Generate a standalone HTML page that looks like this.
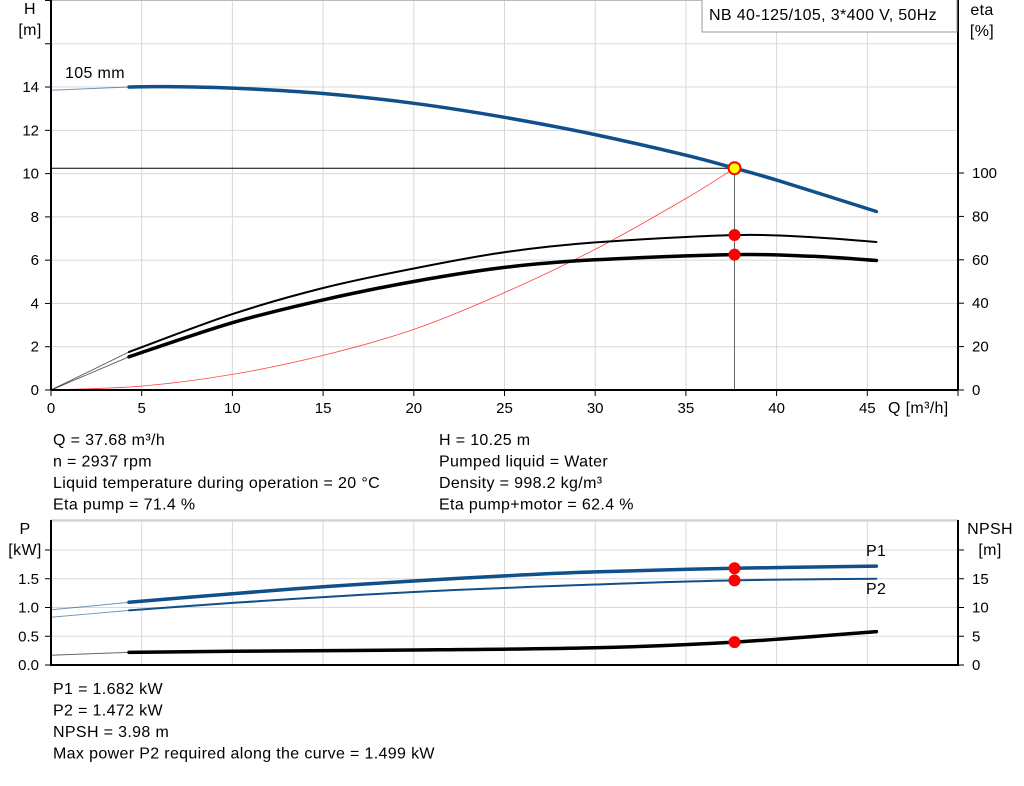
<!DOCTYPE html>
<html><head><meta charset="utf-8"><style>
body{margin:0;background:#fff;width:1024px;height:781px;overflow:hidden;font-family:"Liberation Sans",Arial,sans-serif}
svg text{font-family:"Liberation Sans",Arial,sans-serif;font-size:15px;fill:#000}
svg text.lbl{font-size:16px;letter-spacing:0.35px}
</style></head><body>
<svg id="c" width="1024" height="781"></svg>
<script>
// ---- data ----
const qTicks=[0,5,10,15,20,25,30,35,40,45];
const hTicks=[0,2,4,6,8,10,12,14];
const etaTicks=[0,20,40,60,80,100];
const pTicks=[0,0.5,1.0,1.5];
const npshTicks=[0,5,10,15];
const hQ=[0,4.3,6,10,15,20,25,30,35,37.68,40,45.5];
const hVal=[13.85,14.0,14.02,13.95,13.7,13.25,12.6,11.8,10.85,10.25,9.7,8.25];
const etaQ=[0,4.3,10,15,20,25,30,37.68,42,45.5];
const etaPump=[0,17.5,35,47,56,63.5,68,71.4,70.4,68.2];
const etaTot=[0,15.3,31,41.5,50,56.5,60,62.4,61.6,59.7];
const sysQ=[0,5,10,15,20,25,30,35,37.68];
const sysH=[0,0.18,0.72,1.6,2.8,4.5,6.5,8.85,10.25];
const pQ=[0,4.3,10,15,20,25,30,37.68,45.5];
const p1=[0.96,1.09,1.24,1.36,1.46,1.55,1.62,1.682,1.72];
const p2=[0.83,0.95,1.08,1.18,1.27,1.34,1.40,1.472,1.50];
const npshQ=[0,4.3,10,20,30,37.68,45.5];
const npsh=[1.7,2.2,2.4,2.6,3.0,3.98,5.8];
const duty={q:37.68,h:10.25,etaP:71.4,etaT:62.4,p1:1.682,p2:1.472,npsh:3.98};
const curveStart=4.3;

// ---- axes ----
const X0=51,X1=958;
const x=q=>X0+q*(X1-X0)/50;
const yH=h=>390-h*21.64;
const yE=e=>390-e*2.17;
const yP=p=>665-p*57.5;
const yN=n=>665-n*5.75;
const svg=document.getElementById('c');
const NS='http://www.w3.org/2000/svg';
function mk(t,a,parent){const e=document.createElementNS(NS,t);for(const k in a)e.setAttribute(k,a[k]);(parent||svg).appendChild(e);return e;}
function txt(s,xx,yy,anchor,col,cls){const e=mk('text',{x:xx,y:yy,'text-anchor':anchor||'start'});if(col)e.setAttribute('fill',col);if(cls)e.setAttribute('class',cls);e.textContent=s;return e;}

// grids top
for(let h=2;h<=18;h+=2){const l=mk('line',{x1:X0,x2:X1,y1:yH(h),y2:yH(h),stroke:'#d8d8d8'});}
for(let q=5;q<=45;q+=5){const l=mk('line',{x1:x(q),x2:x(q),y1:0,y2:390,stroke:'#d8d8d8'});}
mk('line',{x1:X0,x2:X1,y1:0.5,y2:0.5,stroke:'#bbb'});
// grids bottom
for(let p=0.5;p<=2.5;p+=0.5){mk('line',{x1:X0,x2:X1,y1:yP(p),y2:yP(p),stroke:'#d8d8d8'});}
for(let q=5;q<=45;q+=5){mk('line',{x1:x(q),x2:x(q),y1:520,y2:665,stroke:'#d8d8d8'});}
mk('line',{x1:X0,x2:X1,y1:520,y2:520,stroke:'#bbb'});

function path(xs,ys,fx,fy,attrs,name){
  const P=xs.map((q,i)=>[fx(q),fy(ys[i])]);
  let d='M'+P[0][0].toFixed(1)+','+P[0][1].toFixed(1);
  for(let i=0;i<P.length-1;i++){
    const p0=P[Math.max(0,i-1)],p1=P[i],p2=P[i+1],p3=P[Math.min(P.length-1,i+2)];
    const c1=[p1[0]+(p2[0]-p0[0])/6,p1[1]+(p2[1]-p0[1])/6];
    const c2=[p2[0]-(p3[0]-p1[0])/6,p2[1]-(p3[1]-p1[1])/6];
    d+='C'+c1[0].toFixed(1)+','+c1[1].toFixed(1)+' '+c2[0].toFixed(1)+','+c2[1].toFixed(1)+' '+p2[0].toFixed(1)+','+p2[1].toFixed(1);
  }
  const p=mk('path',Object.assign({d:d,fill:'none'},attrs));return p;}
function split(xs,ys){const a=[[],[]],b=[[],[]];xs.forEach((q,i)=>{if(q<=curveStart){a[0].push(q);a[1].push(ys[i]);}if(q>=curveStart){b[0].push(q);b[1].push(ys[i]);}});return [a,b];}
function curve(xs,ys,fx,fy,col,w,name){const [a,b]=split(xs,ys);path(a[0],a[1],fx,fy,{stroke:col,'stroke-width':1,opacity:0.6},name+'-extension');path(b[0],b[1],fx,fy,{stroke:col,'stroke-width':w,'stroke-linecap':'round'},name);}

// duty lines
mk('line',{x1:X0,x2:x(duty.q),y1:yH(duty.h),y2:yH(duty.h),stroke:'#000','stroke-width':1});
mk('line',{x1:x(duty.q),x2:x(duty.q),y1:yH(duty.h),y2:390,stroke:'#666','stroke-width':1});
path(sysQ,sysH,x,yH,{stroke:'#ff4040','stroke-width':0.8},'system-curve');
curve(hQ,hVal,x,yH,'#0f4f8a',3.5,'head-curve');
curve(etaQ,etaPump,x,yE,'#000',2,'eta-pump-curve');
curve(etaQ,etaTot,x,yE,'#000',3.5,'eta-total-curve');
curve(pQ,p1,x,yP,'#0f4f8a',3.5,'p1-curve');
curve(pQ,p2,x,yP,'#0f4f8a',2,'p2-curve');
curve(npshQ,npsh,x,yN,'#000',3.5,'npsh-curve');

function dot(yy,name,fill){const c=mk('circle',{cx:x(duty.q),cy:yy,r:6,fill:fill||'#f00',stroke:fill?'#f00':'none','stroke-width':2});}
dot(yE(duty.etaP),'eta-pump-point');dot(yE(duty.etaT),'eta-total-point');
dot(yH(duty.h),'duty-point','#ff0');
dot(yP(duty.p1),'p1-point');dot(yP(duty.p2),'p2-point');dot(yN(duty.npsh),'npsh-point');

// axes
mk('line',{x1:X0,x2:X0,y1:0,y2:390,stroke:'#000','stroke-width':2});
mk('line',{x1:X1,x2:X1,y1:0,y2:390,stroke:'#000','stroke-width':2});
mk('line',{x1:X0,x2:X1,y1:390,y2:390,stroke:'#000','stroke-width':2});
hTicks.forEach(h=>{mk('line',{x1:X0-6,x2:X0,y1:yH(h),y2:yH(h),stroke:'#000'});const t=txt(h,X0-12,yH(h)+5,'end');});
for(let h=16;h<=18;h+=2)mk('line',{x1:X0-6,x2:X0,y1:yH(h),y2:yH(h),stroke:'#000'});
etaTicks.forEach(e=>{mk('line',{x1:X1,x2:X1+6,y1:yE(e),y2:yE(e),stroke:'#000'});const t=txt(e,X1+14,yE(e)+5);});
qTicks.forEach(q=>{mk('line',{x1:x(q),x2:x(q),y1:390,y2:396,stroke:'#000'});const t=txt(q,x(q),413,'middle');});
mk('line',{x1:X1,x2:X1,y1:390,y2:396,stroke:'#000'});
txt('Q [m³/h]',888,413,'start',null,'lbl');
txt('H',30,14,'middle',null,'lbl');txt('[m]',30,35,'middle',null,'lbl');
txt('eta',982,15,'middle',null,'lbl');txt('[%]',982,36,'middle',null,'lbl');
txt('105 mm',65,78,'start',null,'lbl');
mk('rect',{x:702,y:-1,width:255,height:33,fill:'#fff',stroke:'#999'});
txt('NB 40-125/105, 3*400 V, 50Hz',709,20,'start',null,'lbl');

// bottom axes
mk('line',{x1:X0,x2:X0,y1:520,y2:666,stroke:'#000','stroke-width':2});
mk('line',{x1:X1,x2:X1,y1:520,y2:666,stroke:'#000','stroke-width':2});
mk('line',{x1:X0,x2:X1,y1:665,y2:665,stroke:'#000','stroke-width':2});
pTicks.forEach(p=>{mk('line',{x1:X0-6,x2:X0,y1:yP(p),y2:yP(p),stroke:'#000'});const t=txt(p.toFixed(1),X0-12,yP(p)+5,'end');});
mk('line',{x1:X0-6,x2:X0,y1:yP(2),y2:yP(2),stroke:'#000'});
npshTicks.forEach(n=>{mk('line',{x1:X1,x2:X1+6,y1:yN(n),y2:yN(n),stroke:'#000'});const t=txt(n,X1+14,yN(n)+5);});
mk('line',{x1:X1,x2:X1+6,y1:yN(20),y2:yN(20),stroke:'#000'});
txt('P',25,534,'middle',null,'lbl');txt('[kW]',25,555,'middle',null,'lbl');
txt('NPSH',990,534,'middle',null,'lbl');txt('[m]',990,555,'middle',null,'lbl');
txt('P1',866,556,'start','#0f4f8a','lbl');txt('P2',866,594,'start','#0f4f8a','lbl');

// info text
const info1=['Q = 37.68 m³/h','n = 2937 rpm','Liquid temperature during operation = 20 °C','Eta pump = 71.4 %'];
const info2=['H = 10.25 m','Pumped liquid = Water','Density = 998.2 kg/m³','Eta pump+motor = 62.4 %'];
const info3=['P1 = 1.682 kW','P2 = 1.472 kW','NPSH = 3.98 m','Max power P2 required along the curve = 1.499 kW'];
info1.forEach((s,i)=>txt(s,53,445+i*21.5,'start',null,'lbl'));
info2.forEach((s,i)=>txt(s,439,445+i*21.5,'start',null,'lbl'));
info3.forEach((s,i)=>txt(s,53,694+i*21.5,'start',null,'lbl'));
</script>
</body></html>
